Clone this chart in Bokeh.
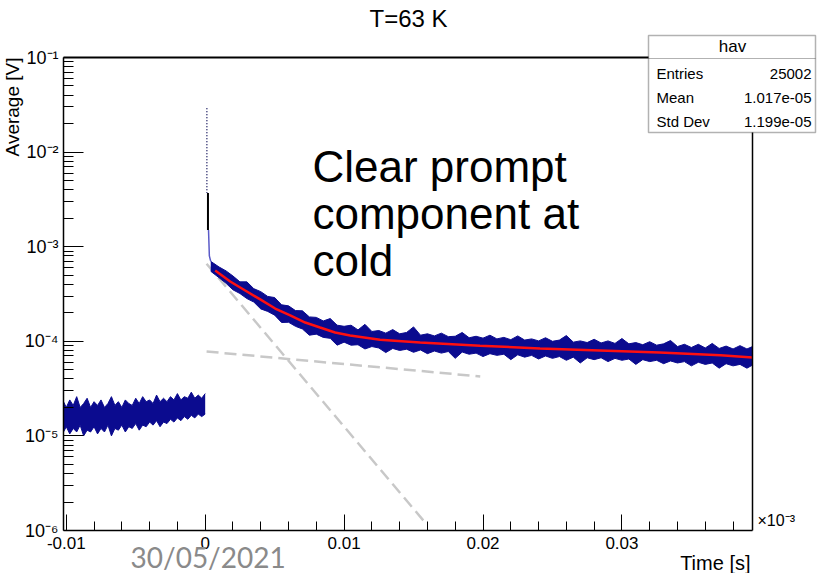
import math
from bokeh.plotting import figure
from bokeh.models import (Range1d, FixedTicker, CustomJSTickFormatter, Label, BoxAnnotation,
                          LinearAxis, LogAxis, LogScale)
from bokeh.embed import file_html
from bokeh.resources import INLINE

# ---------------- data ----------------
U = 1e-5  # band values below are given in units of 1e-5 V

neg_t = [-0.0102, -0.01000, -0.00975, -0.00950, -0.00925, -0.00900, -0.00875, -0.00850,
         -0.00825, -0.00800, -0.00775, -0.00750, -0.00725, -0.00700, -0.00675, -0.00650,
         -0.00625, -0.00600, -0.00575, -0.00550, -0.00525, -0.00500, -0.00475, -0.00450,
         -0.00425, -0.00400, -0.00375, -0.00350, -0.00325, -0.00300, -0.00275, -0.00250,
         -0.00225, -0.00200, -0.00175, -0.00150, -0.00125, -0.00100, -0.00075, -0.00050,
         -0.00025, 0.00000]
neg_hi = [2.3, 2.0, 2.4, 2.1, 2.6, 2.0, 2.2, 2.5, 2.0, 2.3,
          2.1, 2.4, 2.0, 2.2, 2.6, 2.1, 2.3, 2.0, 2.4, 2.2,
          2.1, 2.5, 2.2, 2.6, 2.3, 2.4, 2.2, 2.7, 2.3, 2.5,
          2.3, 2.6, 2.4, 2.8, 2.4, 2.6, 2.5, 2.9, 2.5, 2.7,
          2.5, 2.8]
neg_lo = [1.1, 1.25, 1.05, 1.2, 1.1, 1.3, 1.0, 1.15, 1.1, 1.25,
          1.05, 1.2, 1.1, 1.3, 1.0, 1.2, 1.15, 1.3, 1.1, 1.25,
          1.2, 1.35, 1.15, 1.3, 1.25, 1.4, 1.3, 1.45, 1.25, 1.4,
          1.35, 1.5, 1.4, 1.55, 1.45, 1.6, 1.5, 1.65, 1.55, 1.7,
          1.6, 1.7]

spike_t = [0.00012, 0.00012]
spike_v = [2.9e-2, 3.7e-3]
step_t = [0.00020, 0.00020]
step_v = [3.7e-3, 1.5e-3]
tail_t = [0.00024, 0.00030, 0.00040]
tail_v = [1.5e-3, 8.0e-4, 7.0e-4]

pos_t = [0.0004, 0.0010, 0.0015, 0.0020, 0.0025, 0.0030, 0.0035, 0.0040, 0.0045, 0.0050,
         0.0055, 0.0060, 0.0065, 0.0070, 0.0075, 0.0080, 0.0085, 0.0090, 0.0095, 0.0100,
         0.0105, 0.0110, 0.0115, 0.0120, 0.0125, 0.0130, 0.0135, 0.0140, 0.0145, 0.0150,
         0.0155, 0.0160, 0.0165, 0.0170, 0.0175, 0.0180, 0.0185, 0.0190, 0.0195, 0.0200,
         0.0205, 0.0210, 0.0215, 0.0220, 0.0225, 0.0230, 0.0235, 0.0240, 0.0245, 0.0250,
         0.0255, 0.0260, 0.0265, 0.0270, 0.0275, 0.0280, 0.0285, 0.0290, 0.0295, 0.0300,
         0.0305, 0.0310, 0.0315, 0.0320, 0.0325, 0.0330, 0.0335, 0.0340, 0.0345, 0.0350,
         0.0355, 0.0360, 0.0365, 0.0370, 0.0375, 0.0380, 0.0385, 0.0390, 0.0394]
pos_hi = [70, 61, 55.5, 49, 42.5, 42.5, 36, 33.5, 29.8, 29,
          24.3, 23.7, 21.1, 21, 18.1, 17.9, 16.4, 17.4, 14.8, 14.4,
          14.8, 13.2, 15.1, 12.7, 13.0, 12.2, 13.3, 12.0, 12.4, 14.2,
          11.6, 12.0, 11.4, 12.2, 11.2, 11.3, 12.4, 10.9, 11.3, 10.8,
          11.6, 10.6, 11.0, 10.4, 11.4, 10.3, 10.6, 10.1, 10.9, 10.0,
          10.3, 11.5, 9.8, 10.1, 9.7, 10.5, 9.6, 10.1, 9.5, 10.7,
          9.4, 9.7, 9.2, 9.9, 9.1, 9.4, 10.2, 8.8, 9.3, 8.6,
          9.3, 8.5, 9.5, 8.4, 8.9, 8.3, 9.0, 8.3, 8.8]
pos_lo = [55, 47, 41, 35, 32, 28.3, 26, 22, 20.7, 18.9,
          15.8, 15.9, 14.4, 13.5, 11.6, 11.9, 11.0, 10.75, 9.1, 9.8,
          9.1, 9.2, 8.3, 8.8, 8.5, 7.6, 8.4, 8.0, 8.25, 7.65,
          8.1, 7.4, 7.9, 7.5, 7.8, 6.6, 7.7, 7.3, 7.5, 6.9,
          7.4, 7.1, 7.3, 6.4, 7.2, 6.8, 7.1, 6.5, 7.0, 6.6,
          6.9, 6.3, 6.8, 5.9, 6.7, 6.4, 6.7, 6.1, 6.6, 6.3,
          6.5, 5.7, 6.4, 6.1, 6.3, 5.8, 6.2, 5.9, 6.1, 5.5,
          6.0, 5.7, 5.9, 5.2, 5.8, 5.5, 5.7, 5.2, 5.6]

fit_t = [0.00072, 0.0018, 0.00288, 0.00396, 0.00504, 0.00612, 0.0072, 0.00827, 0.00935,
         0.01043, 0.01259, 0.01547, 0.01978, 0.0241, 0.0284, 0.0327, 0.0371, 0.0394]
fit_v = [5.60e-4, 4.29e-4, 3.44e-4, 2.77e-4, 2.22e-4, 1.88e-4, 1.58e-4, 1.40e-4, 1.24e-4,
         1.15e-4, 1.04e-4, 9.7e-5, 9.0e-5, 8.4e-5, 8.0e-5, 7.6e-5, 7.1e-5, 6.75e-5]
fast_t = [0.0001, 0.0157]
fast_v = [6.6e-4, 1.28e-6]
slow_t = [0.0001, 0.0198]
slow_v = [7.8e-5, 4.25e-5]

x_major = [-0.01, 0.0, 0.01, 0.02, 0.03]
x_minor = [-0.008, -0.006, -0.004, -0.002, 0.002, 0.004, 0.006, 0.008, 0.012, 0.014,
           0.016, 0.018, 0.022, 0.024, 0.026, 0.028, 0.032, 0.034, 0.036, 0.038]
y_major = [1e-6, 1e-5, 1e-4, 1e-3, 1e-2, 1e-1]
y_minor = [m * d for d in [1e-6, 1e-5, 1e-4, 1e-3, 1e-2] for m in range(2, 10)]

stats_names = ["Entries", "Mean", "Std Dev"]
stats_vals = ["25002", "1.017e-05", "1.199e-05"]

# ---------------- layout ----------------
W, H = 821, 573
FL, FR, FT, FB = 63, 752, 57, 530          # ROOT frame (pixels on the canvas)
XMIN, XMAX = -0.0102, 0.0394               # axis limits
YMIN, YMAX = 1e-6, 1e-1
dx = (XMAX - XMIN) / (FR - FL)
ldec = (math.log10(YMAX) - math.log10(YMIN)) / (FB - FT)
x_range = Range1d(XMIN - FL * dx, XMAX + (W - FR) * dx)
y_range = Range1d(10 ** (math.log10(YMIN) - (H - FB) * ldec), 10 ** (math.log10(YMAX) + FT * ldec))

FONT = "Liberation Sans"
BLUE = "#0b0b8f"

p = figure(width=W, height=H, x_range=x_range, y_range=y_range,
           y_axis_type="log", x_axis_location=None, y_axis_location=None,
           output_backend="svg", toolbar_location=None,
           min_border_left=0, min_border_right=0, min_border_top=0, min_border_bottom=0)
p.y_scale = LogScale()
p.title.visible = False
p.grid.visible = False
p.outline_line_color = None
p.background_fill_color = "white"
p.border_fill_color = "white"

# ---------------- glyphs ----------------
p.line(fast_t, fast_v, line_color="#c8c8c8", line_width=2.5, line_dash="12 6")
p.line(slow_t, slow_v, line_color="#c8c8c8", line_width=2.5, line_dash="12 6")

neg_hi_v = [v * U for v in neg_hi]
neg_lo_v = [v * U for v in neg_lo]
pos_hi_v = [v * U for v in pos_hi]
pos_lo_v = [v * U for v in pos_lo]
p.varea(x=neg_t, y1=neg_lo_v, y2=neg_hi_v, fill_color=BLUE)
p.line(neg_t, neg_hi_v, line_color=BLUE, line_width=1)
p.line(neg_t, neg_lo_v, line_color=BLUE, line_width=1)
p.varea(x=pos_t, y1=pos_lo_v, y2=pos_hi_v, fill_color=BLUE)
p.line(pos_t, pos_hi_v, line_color=BLUE, line_width=1)
p.line(pos_t, pos_lo_v, line_color=BLUE, line_width=1)

p.line(spike_t, spike_v, line_color="#1a1a60", line_width=1.5, line_dash="1 2")
p.line(step_t, step_v, line_color="black", line_width=2)
p.line(tail_t, tail_v, line_color="#5a5ac8", line_width=1.5)

p.line(fit_t, fit_v, line_color="#ff1010", line_width=2.5)

# ---------------- axes (ROOT style, drawn at the frame edges) ----------------
def style(ax, size):
    ax.axis_line_color = "black"
    ax.axis_line_width = 1.5
    ax.major_tick_line_color = "black"
    ax.minor_tick_line_color = "black"
    ax.major_tick_out = 0
    ax.minor_tick_out = 0
    ax.major_label_text_font = FONT
    ax.major_label_text_font_size = size
    ax.major_label_text_color = "black"

xax = LinearAxis(fixed_location=YMIN, bounds=(XMIN, XMAX),
                 ticker=FixedTicker(ticks=x_major, minor_ticks=x_minor),
                 formatter=CustomJSTickFormatter(code="return (tick === 0) ? '0' : tick.toFixed(2);"))
style(xax, "17px")
xax.major_tick_in = 16
xax.minor_tick_in = 9
xax.major_label_standoff = 6
p.add_layout(xax, "below")

yax = LogAxis(fixed_location=XMIN, bounds=(YMIN, YMAX),
              ticker=FixedTicker(ticks=y_major, minor_ticks=y_minor),
              formatter=CustomJSTickFormatter(code="""
const sup = {'-':'\u207b','0':'\u2070','1':'\u00b9','2':'\u00b2','3':'\u00b3','4':'\u2074','5':'\u2075','6':'\u2076','7':'\u2077','8':'\u2078','9':'\u2079'};
const e = Math.round(Math.log10(tick));
return '10' + String(e).split('').map(c => sup[c]).join('');
"""))
style(yax, "18px")
yax.major_tick_in = 20
yax.minor_tick_in = 10
yax.major_label_standoff = 5
p.add_layout(yax, "left")

# top and right frame edges (no ticks, no labels)
tax = LinearAxis(fixed_location=YMAX, bounds=(XMIN, XMAX), ticker=FixedTicker(ticks=[]))
style(tax, "1px")
tax.axis_line_width = 2
p.add_layout(tax, "above")
rax = LogAxis(fixed_location=XMAX, bounds=(YMIN, YMAX), ticker=FixedTicker(ticks=[]))
style(rax, "1px")
p.add_layout(rax, "right")


def lab(x, y, text, size, align="left", baseline="middle", font=FONT, color="black", angle=0.0):
    # x, y: canvas pixels measured from the left / top edge
    p.add_layout(Label(x=x, y=H - y, x_units="screen", y_units="screen", text=text,
                       text_font=font, text_font_size=size, text_align=align,
                       text_baseline=baseline, text_color=color, angle=angle))


# stats box
p.add_layout(BoxAnnotation(left=648, right=815, top=H - 35, bottom=H - 132,
                           left_units="screen", right_units="screen",
                           top_units="screen", bottom_units="screen",
                           fill_color="white", fill_alpha=1.0,
                           line_color="black", line_width=1.5))
p.add_layout(BoxAnnotation(left=648, right=815, top=H - 58, bottom=H - 58,
                           left_units="screen", right_units="screen",
                           top_units="screen", bottom_units="screen",
                           fill_alpha=0.0, line_color="black", line_width=1.2))
lab(732, 46, "hav", "17px", align="center")
for i, (n, v) in enumerate(zip(stats_names, stats_vals)):
    yy = 73 + 24 * i
    lab(656, yy, n, "15px")
    lab(811, yy, v, "15px", align="right")

lab(408, 18, "T=63 K", "24px", align="center")
lab(12, 57, "Average [V]", "19px", align="right", angle=1.5708)
lab(750, 562, "Time [s]", "20px", align="right")
lab(757, 520, "\u00d710\u207b\u00b3", "16px")

lab(312, 166, "Clear prompt", "44px", baseline="alphabetic")
lab(312, 213, "component at", "44px", baseline="alphabetic")
lab(312, 260, "cold", "44px", baseline="alphabetic")

lab(130, 556, "30/05/2021", "28px", baseline="alphabetic", font="Lato", color="#8a8a8a")

open("out.html", "w").write(file_html(p, INLINE))
